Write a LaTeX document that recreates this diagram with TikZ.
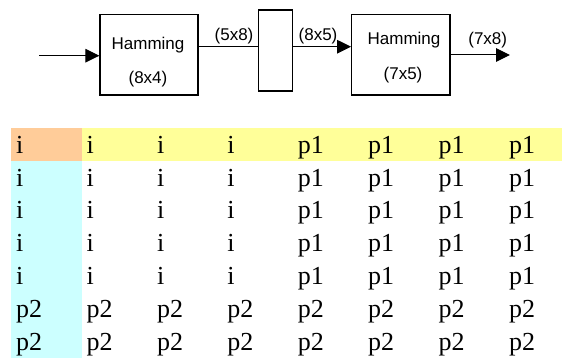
\documentclass[tikz,border=0pt]{standalone}
\usepackage{fontspec}
\setmainfont{Liberation Serif}
\newfontfamily\arialfont{Liberation Sans}
\usetikzlibrary{arrows.meta}
\definecolor{orangecell}{HTML}{FFCC99}
\definecolor{yellowcell}{HTML}{FFFF99}
\definecolor{cyancell}{HTML}{CCFFFF}
\begin{document}
\begin{tikzpicture}[x=1pt,y=-1pt,
  blk/.style={draw,line width=1.2pt,inner sep=0pt},
  lbl/.style={font=\arialfont\fontsize{17}{17}\selectfont, anchor=base, inner sep=0pt},
  cell/.style={font=\fontsize{26}{26}\selectfont, anchor=base west, inner sep=0pt},
  wire/.style={line width=1pt},
  arr/.style={line width=1pt,-{Triangle[length=14pt,width=13.5pt]}}]
\useasboundingbox (0,0) rectangle (562,358);
% blocks
\node[blk, minimum width=98pt, minimum height=80.7pt] (h1) at (149,54.65) {};
\node[blk, minimum width=34pt, minimum height=81pt] (mid) at (275.3,50.5) {};
\node[blk, minimum width=98.3pt, minimum height=80.7pt] (h2) at (400.85,54.65) {};
% block texts
\node[lbl] (h1a) at (148,50) {Hamming};
\node[lbl] (h1b) at (148,84) {(8x4)};
\node[lbl] (h2a) at (404,45) {Hamming};
\node[lbl] (h2b) at (403,80) {(7x5)};
% connectors
\coordinate (in) at (39,55.7);
\coordinate (m) at (0,46.7);
\coordinate (out) at (510,55);
\draw[arr] (in) -- (in -| h1.west);
\draw[wire] (h1.east |- m) -- (mid.west |- m);
\draw[arr] (mid.east |- m) -- (h2.west |- m);
\draw[arr] (h2.east |- out) -- (out);
% connector labels
\node[lbl] (l1) at (234,41) {(5x8)};
\node[lbl] (l2) at (318,41) {(8x5)};
\node[lbl] (l3) at (487.7,45) {(7x8)};
% table backgrounds
\fill[orangecell] (11,128) rectangle (82,161);
\fill[yellowcell] (82,128) rectangle (562,161);
\fill[cyancell] (11,161) rectangle (82,358);
% table text
\foreach \r/\a/\b in {1/i/p1,2/i/p1,3/i/p1,4/i/p1,5/i/p1,6/p2/p2,7/p2/p2} {
  \foreach \k in {0,...,3}
    \node[cell] (c\r\k) at ({16+70.4*\k},{153.3+32.8*(\r-1)}) {\a};
  \foreach \k in {4,...,7}
    \node[cell] (c\r\k) at ({16+70.4*\k},{153.3+32.8*(\r-1)}) {\b};
}
\end{tikzpicture}
\end{document}
